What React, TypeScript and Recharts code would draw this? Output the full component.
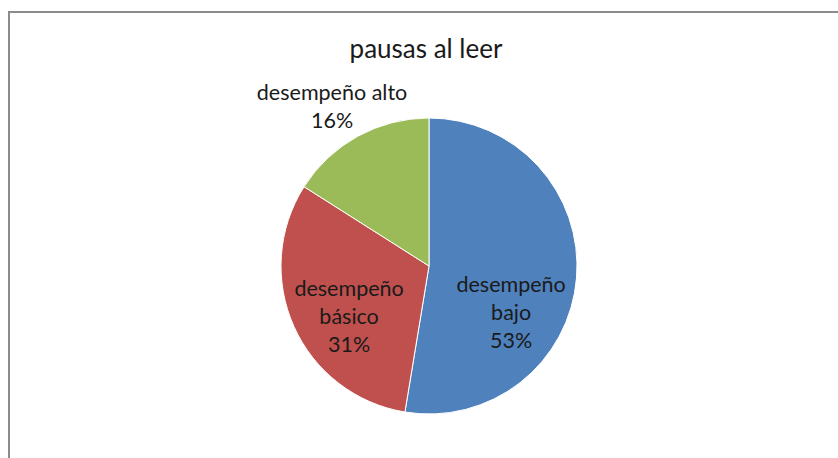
import { Pie, PieChart, Cell } from "recharts";

const categories = ["desempeño bajo", "desempeño básico", "desempeño alto"];
const labelLines = [["desempeño", "bajo"], ["desempeño", "básico"], ["desempeño alto"]];
const values = [52.6, 31.4, 16];
const colors = ["#4F81BD", "#C0504D", "#9BBB59"];

const data = categories.map((name, i) => ({ name, value: values[i] }));

// label centres relative to the pie centre, in units of the radius
const labelOffsets = [
  [0.555, 0.31],
  [-0.54, 0.34],
  [-0.655, -1.08],
];

const FONT = "Lato, 'Noto Sans', sans-serif";

function renderLabel(props: any) {
  const { cx, cy, outerRadius, index, percent } = props;
  const [fx, fy] = labelOffsets[index];
  const x = cx + fx * outerRadius;
  const y = cy + fy * outerRadius;
  const lines = [...labelLines[index], `${Math.round(percent * 100)}%`];
  const lh = 28;
  const top = y - ((lines.length - 1) * lh) / 2;
  return (
    <text
      x={x}
      y={top}
      textAnchor="middle"
      dominantBaseline="central"
      fill="#1a1a1a"
      fontSize={21.5}
      fontFamily={FONT}
    >
      {lines.map((l, k) => (
        <tspan key={k} x={x} y={top + k * lh}>
          {l}
        </tspan>
      ))}
    </text>
  );
}

export default function App() {
  return (
    <div
      style={{
        position: "fixed",
        left: 0,
        top: 0,
        width: 838,
        height: 458,
        overflow: "hidden",
        background: "#fff",
      }}
    >
      <div
        style={{
          position: "absolute",
          left: 8,
          top: 11,
          width: 860,
          height: 480,
          border: "2px solid #8c8c8c",
          boxSizing: "border-box",
        }}
      />
      <div style={{ position: "absolute", left: 0, top: 0 }}>
        <PieChart width={838} height={458} margin={{ top: 0, right: 0, bottom: 0, left: 0 }}>
          <text
            x={426}
            y={48}
            textAnchor="middle"
            dominantBaseline="central"
            fill="#1a1a1a"
            fontSize={26}
            fontFamily={FONT}
          >
            pausas al leer
          </text>
          <Pie
            data={data}
            dataKey="value"
            nameKey="name"
            cx={429}
            cy={266}
            outerRadius={148}
            startAngle={90}
            endAngle={-270}
            stroke="#fff"
            strokeWidth={1}
            label={renderLabel}
            labelLine={false}
            isAnimationActive={false}
          >
            {data.map((d, i) => (
              <Cell key={d.name} fill={colors[i]} />
            ))}
          </Pie>
        </PieChart>
      </div>
    </div>
  );
}
